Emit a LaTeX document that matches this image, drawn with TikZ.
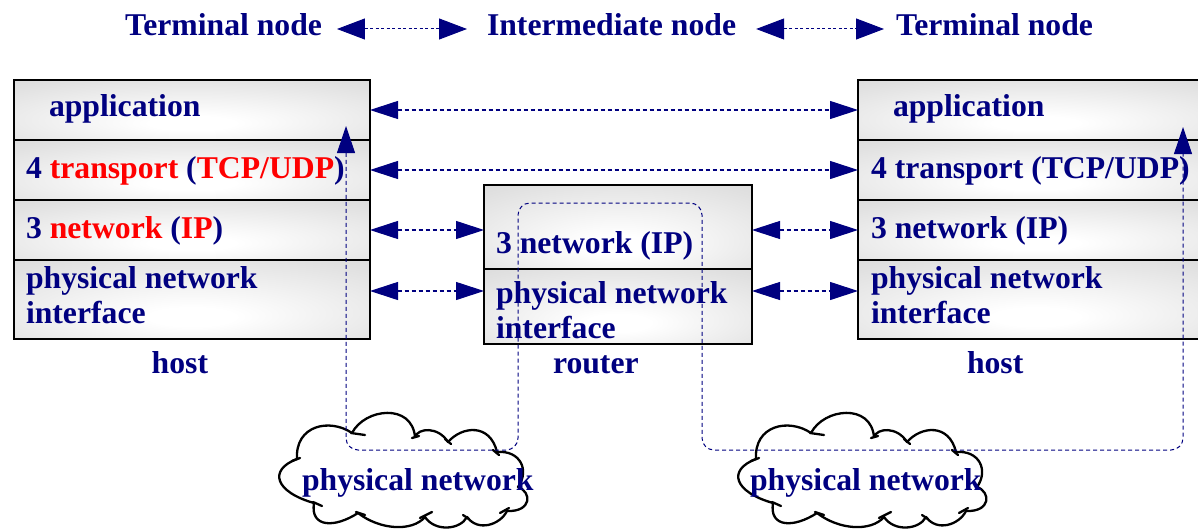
\documentclass[tikz,border=0pt]{standalone}
\usepackage{fontspec}
\setmainfont{Liberation Serif}
\usetikzlibrary{arrows.meta}
\definecolor{navy}{RGB}{0,0,128}
\definecolor{hot}{RGB}{255,0,0}
\pgfdeclareradialshading{layershade}{\pgfpoint{0bp}{-12bp}}{%
  color(0bp)=(white); color(6bp)=(white); color(35bp)=(black!12);
  color(50bp)=(black!17); color(72bp)=(black!24)}

\tikzset{
  lbl/.style={anchor=base west, inner sep=0pt, outer sep=0pt,
    font=\fontsize{31.7}{35}\selectfont\bfseries, text=navy, align=left},
  layer/.style={rectangle, draw=black, line width=2.4pt, inner sep=0pt, outer sep=0pt,
    shading=layershade},
  tipL/.tip={Triangle[length=28pt,width=18pt]},
  link/.style={navy, line width=1.1pt, dash pattern=on 4pt off 3pt, tipL-tipL},
  toplink/.style={navy, line width=1pt, dash pattern=on 3pt off 2.5pt,
    {Triangle[length=28pt,width=21pt]}-{Triangle[length=28pt,width=21pt]}},
  datapath/.style={navy, line width=1pt, dash pattern=on 4pt off 3pt, rounded corners=12pt,
    {Triangle[length=27pt,width=18pt]}-{Triangle[length=27pt,width=18pt]}},
  cloudline/.style={black, line width=2.3pt, line join=round, line cap=round},
  pics/netcloud/.style={code={
    \path[cloudline, draw, fill=white]
      (297,459) .. controls (295,425) and (330,418) .. (352,433)
      .. controls (365,408) and (412,403) .. (415,437)
      .. controls (418,428) and (438,426) .. (448,442)
      .. controls (462,426) and (490,423) .. (497,452)
      .. controls (520,450) and (530,470) .. (518,487)
      .. controls (532,492) and (532,512) .. (507,511)
      .. controls (500,525) and (478,532) .. (467,517)
      .. controls (460,530) and (435,532) .. (425,517)
      .. controls (412,532) and (380,530) .. (358,513)
      .. controls (335,528) and (310,528) .. (314,503)
      .. controls (275,492) and (268,470) .. (297,459) -- cycle;
    \draw[cloudline] (351,433) -- (365,435);
    \draw[cloudline] (412,438) -- (419,436);
    \draw[cloudline] (445,439) -- (451,444);
    \draw[cloudline] (493,450) -- (499,455);
    \draw[cloudline] (500,513) -- (509,508);
    \draw[cloudline] (463,515) -- (469,519);
    \draw[cloudline] (420,518) -- (432,512);
    \draw[cloudline] (356,512) -- (365,515);
    \draw[cloudline] (313,502) -- (322,506);
    \draw[cloudline] (292,461) -- (300,458);
  }}
}

\begin{document}
\begin{tikzpicture}[x=1pt, y=-1pt]
\clip (0,0) rectangle (1198,532);
\fill[white] (0,0) rectangle (1198,532);

% headline: node roles
\node[lbl] (tl) at (125,36) {Terminal node};
\node[lbl] (im) at (487,36) {Intermediate node};
\node[lbl] (tr) at (896,36) {Terminal node};
\draw[toplink] ([shift={(15pt,7pt)}]tl.base east) -- ([shift={(-20pt,7pt)}]im.base west);
\draw[toplink] ([shift={(20pt,7pt)}]im.base east) -- ([shift={(-12pt,7pt)}]tr.base west);

% left host protocol stack
\node[layer, minimum width=356pt, minimum height=60pt] (lapp)   at (192,110) {};
\node[layer, minimum width=356pt, minimum height=60pt] (ltrans) at (192,170) {};
\node[layer, minimum width=356pt, minimum height=60pt] (lnet)   at (192,230) {};
\node[layer, minimum width=356pt, minimum height=79pt] (lphys)  at (192,299.5) {};
\node[lbl] (lappt)   at (49,117)  {application};
\node[lbl] (ltranst) at (26,178)  {4 \textcolor{hot}{transport} (\textcolor{hot}{TCP/UDP})};
\node[lbl] (lnett)   at (26,238)  {3 \textcolor{hot}{network} (\textcolor{hot}{IP})};
\node[lbl] (lphyst)  at (26,323)  {physical network\\interface};
\node[lbl] (lhost)   at (151.7,373) {host};

% router stack
\node[layer, minimum width=268pt, minimum height=84pt] (rtnet)  at (618,227) {};
\node[layer, minimum width=268pt, minimum height=75pt] (rtphys) at (618,306.5) {};
\node[lbl] (rtnett)  at (496,253) {3 network (IP)};
\node[lbl] (rtphyst) at (496,338) {physical network\\interface};
\node[lbl] (router)  at (553,373) {router};

% right host protocol stack
\node[layer, minimum width=356pt, minimum height=60pt] (rapp)   at (1036,110) {};
\node[layer, minimum width=356pt, minimum height=60pt] (rtrans) at (1036,170) {};
\node[layer, minimum width=356pt, minimum height=60pt] (rnet)   at (1036,230) {};
\node[layer, minimum width=356pt, minimum height=79pt] (rphys)  at (1036,299.5) {};
\node[lbl] (rappt)   at (893,117) {application};
\node[lbl] (rtranst) at (871,178) {4 transport (TCP/UDP)};
\node[lbl] (rnett)   at (871,238) {3 network (IP)};
\node[lbl] (rphyst)  at (871,323) {physical network\\interface};
\node[lbl] (rhost)   at (967,373) {host};

% peer-to-peer links between equal layers
\coordinate (lp) at ([yshift=8.5pt]lphys.east);
\coordinate (rp) at ([yshift=8.5pt]rphys.west);
\draw[link] (lapp.east) -- (rapp.west);
\draw[link] (ltrans.east) -- (rtrans.west);
\draw[link] (lnet.east) -- (lnet.east -| rtnet.west);
\draw[link] (lp) -- (lp -| rtphys.west);
\draw[link] (rnet.west -| rtnet.east) -- (rnet.west);
\draw[link] (rp -| rtphys.east) -- (rp);

% physical networks
\pic at (0,0) {netcloud};
\pic at (459,0) {netcloud};
\node[lbl] (net1) at (302,490) {physical network};
\node[lbl] (net2) at (750,490) {physical network};

% path of the data through the stacks
\coordinate (pl) at (346,126);
\coordinate (pr) at (1183,127);
\draw[datapath] (pl) -- (346,450) -- (518,450) -- (518,203) -- (702,203)
  -- (702,450) -- (1183,450) -- (pr);
\end{tikzpicture}
\end{document}
